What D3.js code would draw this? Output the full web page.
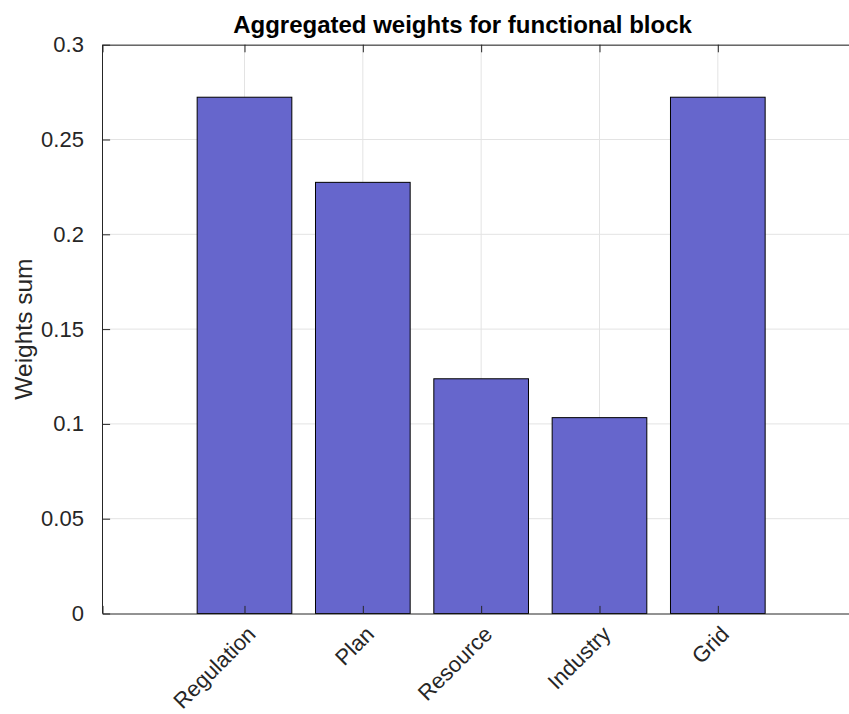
<!DOCTYPE html>
<html lang="en">
<head>
  <meta charset="UTF-8">
  <title>Aggregated weights for functional block</title>
  <script src="https://d3js.org/d3.v7.min.js"></script>
  <style>
    body {
      margin: 0;
      padding: 0;
      background: #fff;
    }
    svg {
      display: block;
      font-family: "Liberation Sans", Arial, Helvetica, sans-serif;
    }
  </style>
</head>
<body>
<svg id="chart" width="849" height="714"></svg>
<script>
const categories = ["Regulation", "Plan", "Resource", "Industry", "Grid"];
const weights = [0.2723, 0.2274, 0.1238, 0.1033, 0.2723];
const yTicks = [0, 0.05, 0.1, 0.15, 0.2, 0.25, 0.3];
const yTickLabels = ["0", "0.05", "0.1", "0.15", "0.2", "0.25", "0.3"];

const svg = d3.select("#chart");
const axisColor = "#262626";
const gridColor = "#e3e3e3";

// axes box (right side falls outside the picture, as in the original)
const plotLeft = 102.5, plotTop = 44.7, plotBottom = 613.5;
const unit = 118.33;
const x = d3.scaleLinear().domain([-0.2, 6.2]).range([plotLeft, plotLeft + 6.4 * unit]);
const y = d3.scaleLinear().domain([0, 0.3]).range([plotBottom, plotTop]);
const barWidth = 0.8;
const tickLen = 7.6;

// grid
const grid = svg.append("g");
grid.selectAll("line.h")
  .data(yTicks.slice(1))
  .join("line")
  .attr("x1", x.range()[0]).attr("x2", x.range()[1])
  .attr("y1", d => y(d)).attr("y2", d => y(d))
  .attr("stroke", gridColor).attr("stroke-width", 1);
grid.selectAll("line.v")
  .data(categories)
  .join("line")
  .attr("x1", (d, i) => x(i + 1)).attr("x2", (d, i) => x(i + 1))
  .attr("y1", plotTop).attr("y2", plotBottom)
  .attr("stroke", gridColor).attr("stroke-width", 1);

// bars
svg.append("g")
  .selectAll("rect")
  .data(weights)
  .join("rect")
  .attr("x", (d, i) => x(i + 1 - barWidth / 2))
  .attr("width", x(barWidth) - x(0))
  .attr("y", d => y(d))
  .attr("height", d => y(0) - y(d))
  .attr("fill", "#6666cc")
  .attr("stroke", "#000")
  .attr("stroke-width", 1);

// y axis
const yAxis = svg.append("g")
  .attr("transform", `translate(${plotLeft},0)`)
  .call(d3.axisLeft(y)
    .tickValues(yTicks)
    .tickFormat((d, i) => yTickLabels[i])
    .tickSize(-tickLen)
    .tickPadding(11 + tickLen));
yAxis.select(".domain").attr("stroke", axisColor).attr("d", `M0,${plotTop}V${plotBottom}`);
yAxis.selectAll(".tick line").attr("stroke", axisColor);
yAxis.selectAll(".tick text")
  .attr("fill", axisColor)
  .style("font-size", "22px");

// bottom axis
const xb = svg.append("g")
  .attr("transform", `translate(0,${plotBottom})`)
  .call(d3.axisBottom(x)
    .tickValues(d3.range(1, categories.length + 1))
    .tickFormat(d => categories[d - 1])
    .tickSizeOuter(0)
    .tickSize(-tickLen));
xb.select(".domain").attr("stroke", axisColor);
xb.selectAll(".tick line").attr("stroke", axisColor);
xb.selectAll(".tick text")
  .attr("fill", axisColor)
  .style("font-size", "22px")
  .attr("text-anchor", "end")
  .attr("x", 0).attr("y", 0).attr("dy", 0)
  .attr("transform", "translate(12,22) rotate(-45)");

// top box line
const xt = svg.append("g")
  .attr("transform", `translate(0,${plotTop})`)
  .call(d3.axisTop(x)
    .tickValues(d3.range(1, categories.length + 1))
    .tickFormat("")
    .tickSizeOuter(0)
    .tickSize(-tickLen));
xt.select(".domain").attr("stroke", axisColor);
xt.selectAll(".tick line").attr("stroke", axisColor);

// title and label
svg.append("text")
  .attr("x", 462.5).attr("y", 33)
  .attr("text-anchor", "middle")
  .attr("font-weight", "bold")
  .attr("font-size", 24)
  .attr("fill", "#000")
  .text("Aggregated weights for functional block");

svg.append("text")
  .attr("transform", `translate(32,${(plotTop + plotBottom) / 2}) rotate(-90)`)
  .attr("text-anchor", "middle")
  .attr("font-size", 24.5)
  .attr("fill", axisColor)
  .text("Weights sum");
</script>
</body>
</html>
